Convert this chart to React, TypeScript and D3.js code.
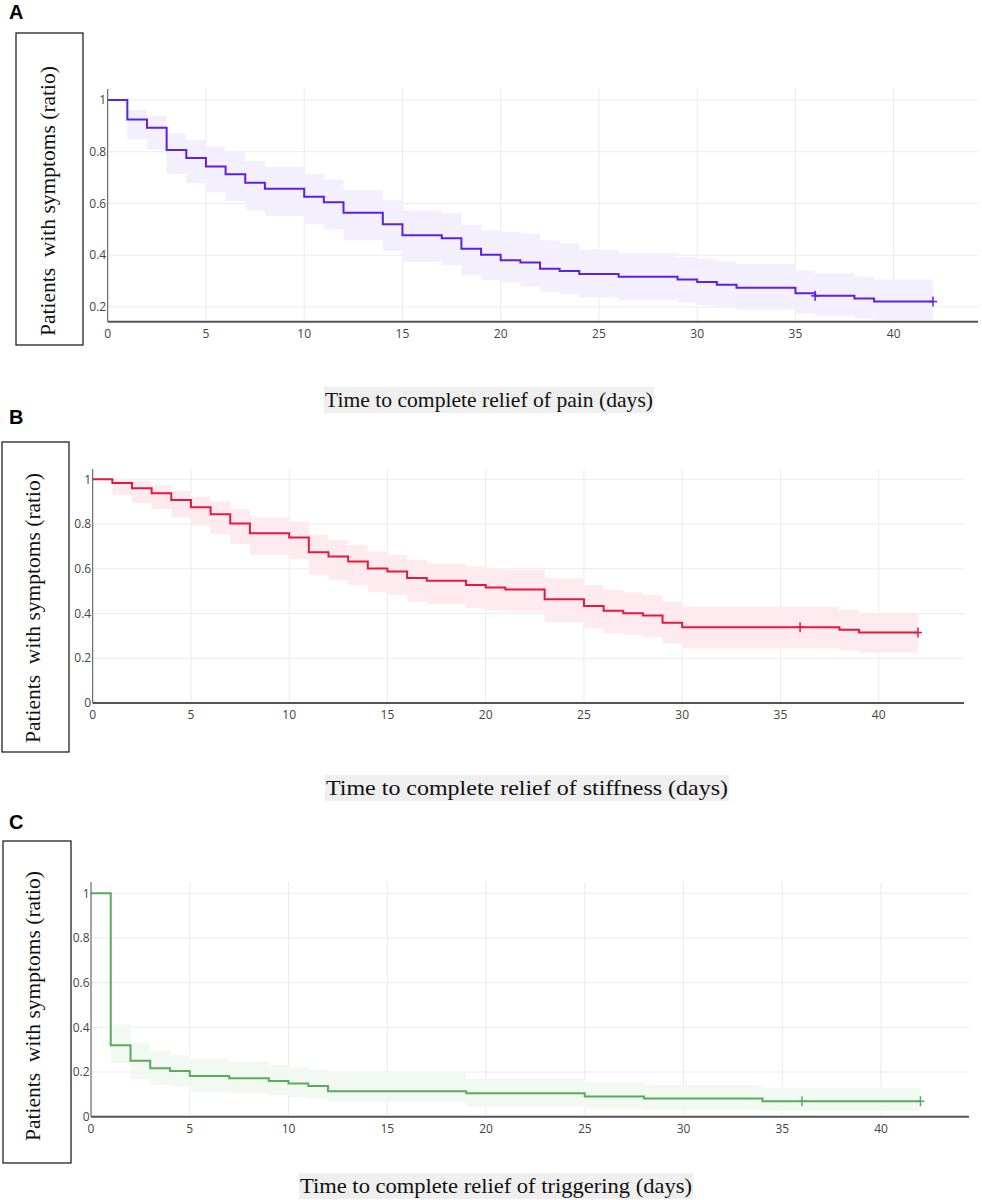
import { useLayoutEffect, useRef, useState } from "react";
import * as d3 from "d3";

// Kaplan-Meier steps (value holds from each time to the next)
const painTimes = [0, 1, 2, 3, 4, 5, 6, 7, 8, 10, 11, 12, 14, 15, 17, 18, 19, 20, 21, 22, 23, 24, 26, 29, 30, 31, 32, 35, 36, 38, 39];
const painSurv = [1, 0.925, 0.893, 0.807, 0.776, 0.743, 0.713, 0.68, 0.657, 0.626, 0.605, 0.564, 0.52, 0.477, 0.466, 0.425, 0.402, 0.381, 0.372, 0.348, 0.339, 0.328, 0.317, 0.306, 0.297, 0.286, 0.274, 0.253, 0.243, 0.233, 0.221];
const painUpper = [1, 0.961, 0.939, 0.871, 0.845, 0.819, 0.8, 0.765, 0.742, 0.714, 0.693, 0.652, 0.613, 0.572, 0.562, 0.519, 0.497, 0.49, 0.484, 0.458, 0.446, 0.422, 0.409, 0.394, 0.386, 0.375, 0.366, 0.342, 0.33, 0.317, 0.306];
const painLower = [1, 0.848, 0.809, 0.714, 0.678, 0.643, 0.609, 0.574, 0.552, 0.52, 0.5, 0.458, 0.417, 0.375, 0.362, 0.323, 0.304, 0.296, 0.278, 0.259, 0.248, 0.237, 0.226, 0.216, 0.207, 0.198, 0.19, 0.175, 0.164, 0.155, 0.149];

const stiffTimes = [0, 1, 2, 3, 4, 5, 6, 7, 8, 10, 11, 12, 13, 14, 15, 16, 17, 19, 20, 21, 23, 25, 26, 27, 28, 29, 30, 38, 39];
const stiffSurv = [1, 0.983, 0.96, 0.938, 0.908, 0.875, 0.844, 0.802, 0.759, 0.74, 0.674, 0.655, 0.632, 0.601, 0.588, 0.559, 0.547, 0.528, 0.516, 0.507, 0.464, 0.434, 0.412, 0.401, 0.391, 0.359, 0.339, 0.327, 0.315];
const stiffUpper = [1, 0.999, 0.995, 0.975, 0.949, 0.923, 0.901, 0.867, 0.829, 0.811, 0.752, 0.729, 0.707, 0.677, 0.662, 0.64, 0.625, 0.61, 0.6, 0.595, 0.558, 0.528, 0.506, 0.494, 0.483, 0.453, 0.431, 0.416, 0.401];
const stiffLower = [1, 0.93, 0.894, 0.867, 0.829, 0.792, 0.755, 0.711, 0.662, 0.643, 0.573, 0.55, 0.528, 0.495, 0.483, 0.453, 0.443, 0.424, 0.413, 0.409, 0.361, 0.334, 0.312, 0.304, 0.294, 0.267, 0.245, 0.234, 0.225];

const trigTimes = [0, 1, 2, 3, 4, 5, 7, 9, 10, 11, 12, 19, 25, 28, 34];
const trigSurv = [1, 0.32, 0.251, 0.217, 0.205, 0.182, 0.172, 0.16, 0.149, 0.137, 0.114, 0.105, 0.09, 0.081, 0.069];
const trigUpper = [1, 0.414, 0.329, 0.295, 0.276, 0.261, 0.246, 0.232, 0.22, 0.21, 0.194, 0.172, 0.157, 0.142, 0.13];
const trigLower = [1, 0.239, 0.167, 0.142, 0.134, 0.112, 0.105, 0.095, 0.088, 0.08, 0.067, 0.045, 0.037, 0.03, 0.027];

const endTime = 42;
const censorTimes = [36, 42];
const xTicks = [0, 5, 10, 15, 20, 25, 30, 35, 40];
const yTicksA = [0.2, 0.4, 0.6, 0.8, 1];
const yTicksBC = [0, 0.2, 0.4, 0.6, 0.8, 1];

const yLabel = "Patients  with symptoms (ratio)";

type Panel = {
  letter: string;
  letterY: number;
  box: [number, number, number, number];
  yLabelX: number;
  yLabelY: number;
  x0: number;
  x1: number;
  pxPerDay: number;
  yDom: [number, number];
  yRange: [number, number];
  yTop: number;
  yBottom: number;
  yTicks: number[];
  times: number[];
  surv: number[];
  upper: number[];
  lower: number[];
  color: string;
  band: string;
  title: string;
  titleX: number;
  titleY: number;
  titleW: number;
};

const panels: Panel[] = [
  {
    letter: "A", letterY: 19, box: [16, 33, 83, 345], yLabelX: 55, yLabelY: 201,
    x0: 107.7, x1: 978, pxPerDay: 19.65, yDom: [0.2, 1], yRange: [307, 100], yTop: 89, yBottom: 321.7,
    yTicks: yTicksA, times: painTimes, surv: painSurv, upper: painUpper, lower: painLower,
    color: "#5a22e2", band: "#f3effd", title: "Time to complete relief of pain (days)", titleX: 325, titleY: 407, titleW: 328,
  },
  {
    letter: "B", letterY: 424, box: [2, 442, 69, 752], yLabelX: 40, yLabelY: 608,
    x0: 92.7, x1: 964, pxPerDay: 19.65, yDom: [0, 1], yRange: [703, 479.3], yTop: 469, yBottom: 703,
    yTicks: yTicksBC, times: stiffTimes, surv: stiffSurv, upper: stiffUpper, lower: stiffLower,
    color: "#e5193f", band: "#fdebef", title: "Time to complete relief of stiffness (days)", titleX: 326, titleY: 795, titleW: 402,
  },
  {
    letter: "C", letterY: 829, box: [3, 841, 71, 1163], yLabelX: 40, yLabelY: 1006,
    x0: 91, x1: 969, pxPerDay: 19.75, yDom: [0, 1], yRange: [1116.7, 893.3], yTop: 882, yBottom: 1116.7,
    yTicks: yTicksBC, times: trigTimes, surv: trigSurv, upper: trigUpper, lower: trigLower,
    color: "#5aab5c", band: "#f2f9f2", title: "Time to complete relief of triggering (days)", titleX: 300, titleY: 1193, titleW: 392,
  },
];

function Title({ x, y, text, width }: { x: number; y: number; text: string; width: number }) {
  const ref = useRef<SVGTextElement>(null);
  const [w, setW] = useState(width);
  useLayoutEffect(() => {
    if (ref.current) setW(ref.current.getComputedTextLength());
  }, [text, width]);
  return (
    <g>
      <rect x={x - 1} y={y - 20} width={w + 2} height={26} fill="#efefef" />
      <text
        ref={ref}
        x={x}
        y={y}
        textLength={width}
        lengthAdjust="spacingAndGlyphs"
        fontFamily="Liberation Serif, Times New Roman, serif"
        fontSize={22}
        fill="#111"
      >
        {text}
      </text>
    </g>
  );
}

function KMPanel({ p }: { p: Panel }) {
  const x = d3.scaleLinear().domain([0, 1]).range([p.x0, p.x0 + p.pxPerDay]);
  const y = d3.scaleLinear().domain(p.yDom).range(p.yRange);

  const pts = p.times.map((t, i) => ({ t, s: p.surv[i], u: p.upper[i], l: p.lower[i] }));
  const last = pts[pts.length - 1];
  pts.push({ ...last, t: endTime });

  const line = d3
    .line<(typeof pts)[number]>()
    .x((d) => x(d.t))
    .y((d) => y(d.s))
    .curve(d3.curveStepAfter);
  const area = d3
    .area<(typeof pts)[number]>()
    .x((d) => x(d.t))
    .y0((d) => y(d.l))
    .y1((d) => y(d.u))
    .curve(d3.curveStepAfter);

  const [bx0, by0, bx1, by1] = p.box;
  const tickFont = "Open Sans, Verdana, sans-serif";

  return (
    <g>
      <text x={9} y={p.letterY} fontFamily="Liberation Sans, Arial, sans-serif" fontWeight="bold" fontSize={20} fill="#000">
        {p.letter}
      </text>
      <rect x={bx0} y={by0} width={bx1 - bx0} height={by1 - by0} fill="none" stroke="#222" strokeWidth={1.3} />
      <text
        transform={`translate(${p.yLabelX},${p.yLabelY}) rotate(-90)`}
        textAnchor="middle"
        fontFamily="Liberation Serif, Times New Roman, serif"
        fontSize={21.5}
        fill="#111"
        style={{ whiteSpace: "pre" }}
      >
        {yLabel}
      </text>

      {/* grid */}
      {xTicks.map((t) => (
        <line key={"gx" + t} x1={x(t)} x2={x(t)} y1={p.yTop} y2={p.yBottom} stroke="#ebebeb" strokeWidth={1} />
      ))}
      {p.yTicks.map((v) => (
        <line key={"gy" + v} x1={p.x0} x2={p.x1} y1={y(v)} y2={y(v)} stroke="#ebebeb" strokeWidth={1} />
      ))}

      <path d={area(pts.slice(1)) ?? ""} fill={p.band} stroke="none" />
      <path d={line(pts) ?? ""} fill="none" stroke={p.color} strokeWidth={2} />
      {censorTimes.map((t) => {
        const s = pts.filter((d) => d.t <= t).slice(-1)[0].s;
        return (
          <g key={"c" + t} stroke={p.color} strokeWidth={1.5}>
            <line x1={x(t)} x2={x(t)} y1={y(s) - 5} y2={y(s) + 5} />
            <line x1={x(t) - 4} x2={x(t) + 4} y1={y(s)} y2={y(s)} />
          </g>
        );
      })}

      {/* axes */}
      <line x1={p.x0} x2={p.x0} y1={p.yTop} y2={p.yBottom} stroke="#555" strokeWidth={1} />
      <line x1={p.x0} x2={p.x1} y1={p.yBottom} y2={p.yBottom} stroke="#555" strokeWidth={2} />
      {p.yTicks.map((v) => (
        <text key={"ty" + v} x={p.x0 - 1.5} y={y(v)} dy="0.35em" textAnchor="end" fontFamily={tickFont} fontSize={12} fill="#444">
          {d3.format("~g")(v)}
        </text>
      ))}
      {xTicks.map((t) => (
        <text key={"tx" + t} x={x(t)} y={p.yBottom + 16} textAnchor="middle" fontFamily={tickFont} fontSize={12} fill="#444">
          {t}
        </text>
      ))}

      <Title x={p.titleX} y={p.titleY} text={p.title} width={p.titleW} />
    </g>
  );
}

export default function App() {
  return (
    <svg
      width={982}
      height={1200}
      style={{ position: "absolute", left: 0, top: 0, background: "#fff" }}
    >
      {panels.map((p) => (
        <KMPanel key={p.letter} p={p} />
      ))}
    </svg>
  );
}
